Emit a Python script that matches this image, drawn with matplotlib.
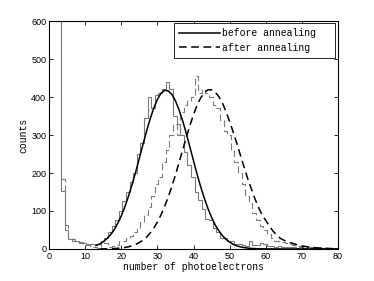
import numpy as np
import matplotlib
matplotlib.use('Agg')
import matplotlib.pyplot as plt

# histogram bins: width 1, first edge at 2.3 (first bin is the off-scale pedestal)
bin_start = 2.3
before_counts = [1500, 152, 50, 27, 25, 22, 18, 15, 13, 14, 12, 14, 20, 30, 45, 60,
                 75, 100, 125, 150, 175, 200, 250, 280, 345, 400, 370, 405, 410, 420,
                 440, 420, 350, 330, 300, 255, 220, 190, 150, 130, 105, 80, 75, 55, 45,
                 30, 30, 20, 20, 12, 12, 10, 8, 20, 10, 10, 15, 12, 8, 8, 6, 7, 5, 6,
                 4, 5, 3, 4, 3, 4, 2, 3, 2, 3, 2, 2, 1, 1]
after_counts = [1500, 185, 63, 30, 22, 19, 16, 13, 10, 8, 5, 3, 20, 15, 5, 8,
                10, 20, 20, 30, 35, 45, 55, 70, 90, 110, 140, 170, 190, 230, 260,
                300, 330, 300, 360, 380, 390, 400, 455, 410, 420, 410, 400, 380, 370,
                340, 310, 300, 260, 230, 200, 170, 140, 120, 95, 75, 60, 50, 40, 30,
                22, 20, 18, 15, 12, 10, 8, 8, 5, 6, 4, 5, 3, 4, 2, 3, 2, 2]

# fitted curves
fit_before_x = [13, 14, 15, 16, 17, 18, 19, 20, 21, 22, 23, 24, 25, 26, 27, 28, 29,
                30, 31, 32, 33, 34, 35, 36, 37, 38, 39, 40, 41, 42, 43, 44, 45, 46,
                47, 48, 49, 50, 51, 52, 53, 54, 55, 56, 58, 60, 65, 70, 80]
fit_before_y = [9, 13, 19, 27, 37, 50, 67, 87, 111, 139, 170, 203, 239, 275, 310,
                343, 371, 394, 410, 418, 416, 407, 390, 366, 337, 304, 268, 232, 196,
                163, 133, 106, 83, 63, 48, 35, 25, 18, 12, 8, 5.5, 3.6, 2.3, 1.4, 0.5,
                0.2, 0, 0, 0]
fit_after_x = [14, 16, 18, 20, 21, 22, 23, 24, 25, 26, 27, 28, 29, 30, 31, 32, 33,
               34, 35, 36, 37, 38, 39, 40, 41, 42, 43, 44, 45, 46, 47, 48, 49, 50,
               51, 52, 53, 54, 55, 56, 57, 58, 59, 60, 61, 62, 63, 64, 65, 66, 67,
               68, 69, 70, 72, 74, 76, 78, 80]
fit_after_y = [0.2, 0.4, 1.1, 2.6, 3.9, 5.8, 8.4, 12, 17, 23, 31, 42, 55, 71, 90,
               112, 137, 165, 195, 228, 261, 294, 325, 354, 379, 398, 412, 419, 419,
               413, 401, 384, 361, 335, 307, 277, 246, 215, 185, 158, 132, 109, 89,
               75, 60, 47, 37, 28, 23, 19, 16, 13, 10, 8, 5, 3, 2, 1, 0.5]

labels = ['before annealing', 'after annealing']

fig = plt.figure(figsize=(3.74, 2.81), dpi=100)
ax = fig.add_axes([0.131, 0.114, 0.773, 0.811])

edges_b = bin_start + np.arange(len(before_counts) + 1)
edges_a = bin_start + np.arange(len(after_counts) + 1)
ax.stairs(before_counts, edges_b, baseline=None, color='#7a7a7a', linewidth=0.8)
ax.stairs(after_counts, edges_a, baseline=None, color='#7a7a7a', linewidth=0.8,
          linestyle=(0, (6, 3)))

ax.plot(fit_before_x, fit_before_y, '-', color='black', linewidth=1.1, label=labels[0])
ax.plot(fit_after_x, fit_after_y, color='black', linewidth=1.1,
        linestyle=(0, (5, 3)), label=labels[1])

ax.set_xlim(0, 80)
ax.set_ylim(0, 600)
ax.set_xticks(np.arange(0, 81, 10))
ax.set_yticks(np.arange(0, 601, 100))
ax.tick_params(direction='in', top=True, right=True, length=3, width=0.6,
               labelsize=6.5, pad=2)
for lab in ax.get_xticklabels() + ax.get_yticklabels():
    lab.set_family('Liberation Sans')
for sp in ax.spines.values():
    sp.set_linewidth(0.8)

mono = 'Liberation Mono'
ax.set_xlabel('number of photoelectrons', family=mono, fontsize=7, labelpad=1)
ax.set_ylabel('counts', family=mono, fontsize=7, labelpad=2)

leg = ax.legend(loc='upper left', bbox_to_anchor=(0.432, 0.5, 0.558, 0.491),
                mode='expand', borderaxespad=0,
                prop={'family': mono, 'size': 7},
                handlelength=4.2, handletextpad=0.2, fancybox=False,
                edgecolor='black', framealpha=1, borderpad=0.5,
                labelspacing=0.5)
leg.get_frame().set_linewidth(0.6)

plt.savefig('out.png', dpi=100)
